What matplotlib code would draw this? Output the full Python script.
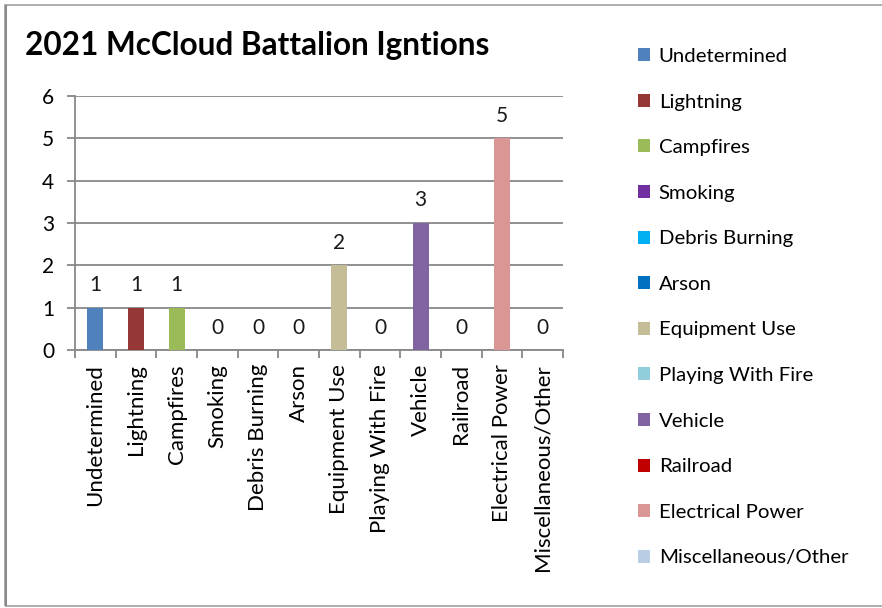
import matplotlib
matplotlib.use("Agg")
import matplotlib.pyplot as plt
from matplotlib.patches import Rectangle, Patch
import numpy as np

plt.rcParams['font.family'] = ['Lato', 'DejaVu Sans']

categories = ["Undetermined", "Lightning", "Campfires", "Smoking", "Debris Burning",
              "Arson", "Equipment Use", "Playing With Fire", "Vehicle", "Railroad",
              "Electrical Power", "Miscellaneous/Other"]
values = [1, 1, 1, 0, 0, 0, 2, 0, 3, 0, 5, 0]
colors = ["#4F81BD", "#953735", "#9BBB59", "#7030A0", "#00B0F0", "#0070C0",
          "#C4BD97", "#92CDDC", "#8064A2", "#C00000", "#D99694", "#B9CDE5"]
title = "2021 McCloud Battalion Igntions"

W, H = 882, 608
fig = plt.figure(figsize=(W / 100, H / 100), dpi=100)

# outer border
fig.patches.append(Rectangle((5 / W, 1 - 606 / H), 2.0, (606 - 5) / H,
                             transform=fig.transFigure, fill=False,
                             edgecolor="#A0A0A0", linewidth=1.2))
fig.patches.append(Rectangle((5 / W, 1 - 606 / H), 2 / W, (606 - 5) / H,
                             transform=fig.transFigure, color="#8A8A8A", linewidth=0))

ax = fig.add_axes([75 / W, 1 - 350 / H, (563 - 75) / W, (350 - 96) / H])
x = np.arange(len(categories))
bars = ax.bar(x, values, width=0.4, color=colors, zorder=3)
ax.bar_label(bars, labels=[str(v) for v in values], padding=9, fontsize=15, color="#1a1a1a")

ax.set_xlim(-0.5, len(categories) - 0.5)
ax.set_ylim(0, 6)
ax.set_yticks(range(0, 7))
ax.set_yticklabels([str(i) for i in range(0, 7)], fontsize=15)
ax.yaxis.grid(True, color="#888888", linewidth=1.3, zorder=0)
ax.set_axisbelow(True)

ax.set_xticks(x)
ax.set_xticklabels(categories, rotation=90, fontsize=16)
ax.tick_params(axis='x', which='major', length=0, pad=10)
ax.set_xticks(np.arange(-0.5, len(categories)), minor=True)
ax.tick_params(axis='x', which='minor', length=6, width=1.3, color="#888888")
ax.tick_params(axis='y', length=6, width=1.3, color="#888888", pad=9)

for s in ['top', 'right']:
    ax.spines[s].set_visible(False)
for s in ['left', 'bottom']:
    ax.spines[s].set_color("#888888")
    ax.spines[s].set_linewidth(1.3)

fig.text(25 / W, 1 - 45 / H, title, fontsize=22.7, fontweight='bold', va='center', ha='left')

handles = [Patch(facecolor=c, edgecolor='none') for c in colors]
fig.legend(handles, categories, loc='upper left', bbox_to_anchor=(638 / W, 1 - 48 / H),
           frameon=False, fontsize=14.7, handlelength=0.6, handleheight=0.6,
           handletextpad=0.42, labelspacing=1.4, borderaxespad=0, borderpad=0)

fig.savefig("out.png", dpi=100)
